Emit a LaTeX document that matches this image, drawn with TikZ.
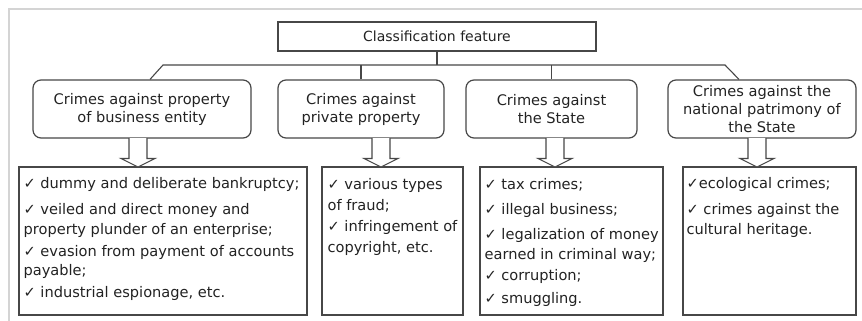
\documentclass[tikz,border=0pt]{standalone}
\usepackage{fontspec}
\setmainfont{DejaVu Sans}
\usetikzlibrary{calc}
\definecolor{edge}{HTML}{474747}
\definecolor{framegray}{HTML}{D4D4D4}
\definecolor{ink}{HTML}{222222}
\newcommand{\ck}{\char"2713\ }
\begin{document}
\begin{tikzpicture}[x=1pt,y=-1pt,
  every node/.style={text=ink},
  sqbox/.style={draw=edge, line width=1.2pt, inner sep=0pt, align=center,
    font=\fontsize{14}{18}\selectfont},
  rbox/.style={draw=edge, line width=1.2pt, rounded corners=8pt, inner sep=0pt,
    align=center, minimum height=58, font=\fontsize{14.6}{18}\selectfont},
  lbox/.style={draw=edge, line width=1.2pt, inner sep=0pt, minimum height=148},
  ltext/.style={anchor=north west, inner sep=0pt, align=left,
    font=\fontsize{14.6}{19.5}\selectfont},
  conn/.style={draw=edge, line width=1.1pt},
  blockarrow/.style={draw=edge, line width=1.1pt, fill=white}
]
\useasboundingbox (0,0) rectangle (862,321);
\draw[framegray, line width=1.6pt] (8.8,321) -- (8.8,8.8) -- (862,8.8);

% top
\node[sqbox, minimum width=318, minimum height=29] (top) at (437,36.5) {Classification feature};

% category boxes
\node[rbox, minimum width=218] (b1) at (142,109) {Crimes against property\\of business entity};
\node[rbox, minimum width=166] (b2) at (361,109) {Crimes against\\private property};
\node[rbox, minimum width=171] (b3) at (551.5,109) {Crimes against\\the State};
\node[rbox, minimum width=188] (b4) at (762,109) {Crimes against the\\national patrimony of\\the State};

% lower boxes
\node[lbox, minimum width=288] (l1) at (163,241) {};
\node[lbox, minimum width=141] (l2) at (392.5,241) {};
\node[lbox, minimum width=183] (l3) at (571.5,241) {};
\node[lbox, minimum width=173] (l4) at (769.5,241) {};

\node[ltext] (t1) at ($(l1.north west)+(5,11)$) {\ck dummy and deliberate bankruptcy;\\[6.5pt]
\ck veiled and direct money and\\property plunder of an enterprise;\\[2.5pt]
\ck evasion from payment of accounts\\payable;\\[2.5pt]
\ck industrial espionage, etc.};
\node[ltext, font=\fontsize{14.6}{21}\selectfont] (t2) at ($(l2.north west)+(6,12)$) {\ck various types\\of fraud;\\
\ck infringement of\\copyright, etc.};
\node[ltext] (t3) at ($(l3.north west)+(5,12)$) {\ck tax crimes;\\[5.5pt]
\ck illegal business;\\[5.5pt]
\ck legalization of money\\earned in criminal way;\\[1.5pt]
\ck corruption;\\[3.5pt]
\ck smuggling.};
\node[ltext] (t4) at ($(l4.north west)+(4,11)$) {\char"2713 ecological crimes;\\[6.5pt]
\ck crimes against the\\cultural heritage.};

% connectors
\coordinate (hl) at (163,65);
\coordinate (hr) at (725,65);
\draw[conn] (top.south) -- (top.south |- hl);
\draw[conn] ($(b1.north)+(8,0)$) -- (hl) -- (hr) -- ($(b4.north)+(-23,0)$);
\draw[conn] (b2.north) -- (b2.north |- hl);
\draw[conn] (b3.north) -- (b3.north |- hl);

% block arrows
\foreach \b/\l/\c in {b1/l1/138, b2/l2/381, b3/l3/555, b4/l4/757}{
  \draw[blockarrow] (\c-9,138) -- (\c-9,158.5) -- (\c-17,158.5) -- (\c,167) -- (\c+17,158.5) -- (\c+9,158.5) -- (\c+9,138);
}
\end{tikzpicture}
\end{document}
